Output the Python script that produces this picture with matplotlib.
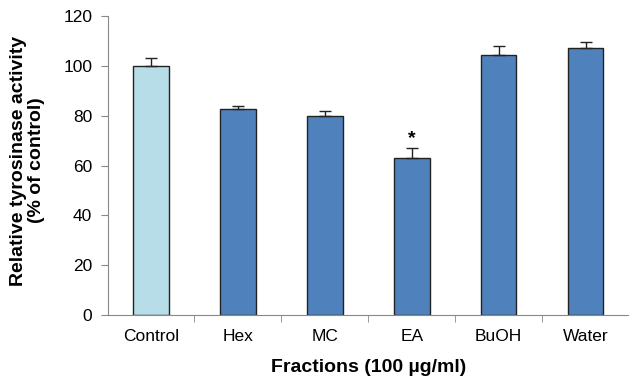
import matplotlib
matplotlib.use("Agg")
import matplotlib.pyplot as plt
import numpy as np

categories = ["Control", "Hex", "MC", "EA", "BuOH", "Water"]
values = [100, 82.5, 80, 63, 104.5, 107.2]
errors = [3, 1.3, 2, 4, 3.3, 2.4]
colors = ["#b7dde8", "#4f81bd", "#4f81bd", "#4f81bd", "#4f81bd", "#4f81bd"]

plt.rcParams["font.family"] = ["Liberation Sans", "DejaVu Sans"]

fig = plt.figure(figsize=(6.29, 3.81), dpi=100)
ax = fig.add_axes([0.171, 0.173, 0.829, 0.785])

x = np.arange(len(categories))
ax.bar(x, values, width=0.41, color=colors, edgecolor="#222222", linewidth=1.0, zorder=2)
ax.errorbar(x, values, yerr=[np.zeros(len(errors)), errors], fmt="none",
            ecolor="#222222", elinewidth=1.0, capsize=4, capthick=1.0, zorder=3)

# significance mark on EA
ax.text(x[3], values[3] + errors[3] + 0.3, "*", ha="center", va="bottom",
        fontsize=14, fontweight="bold")

ax.set_xlim(-0.5, len(categories) - 0.5)
ax.set_ylim(0, 120)
ax.set_yticks(range(0, 121, 20))
ax.set_xticks(x)
ax.set_xticklabels(categories, fontsize=12.5)
ax.set_xticks(np.arange(0.5, len(categories) - 0.5, 1), minor=True)
ax.tick_params(axis="x", which="major", length=0, pad=10)
ax.tick_params(axis="x", which="minor", length=5, color="#888888")
ax.tick_params(axis="y", length=5, color="#888888", labelsize=12.5, pad=6)

for side in ["top", "right"]:
    ax.spines[side].set_visible(False)
for side in ["left", "bottom"]:
    ax.spines[side].set_color("#888888")

ax.set_ylabel("Relative tyrosinase activity\n(% of control)", fontsize=14,
              fontweight="bold", linespacing=1.05)
ax.yaxis.set_label_coords(-0.12, 0.517)
ax.set_xlabel("Fractions (100 µg/ml)", fontsize=14, fontweight="bold", labelpad=11)

fig.savefig("out.png", dpi=100)
